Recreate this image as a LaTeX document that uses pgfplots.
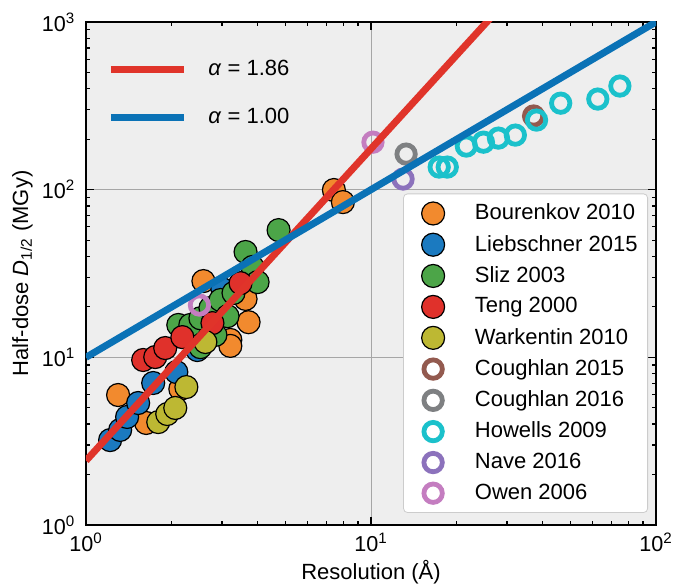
\documentclass[border=0pt]{standalone}
\usepackage{pgfplots}
\pgfplotsset{compat=1.18}
\usepackage{fontspec}
\setmainfont{Liberation Sans}
\definecolor{bgc}{HTML}{EEEEEE}
\definecolor{cOr}{HTML}{F28A2E}
\definecolor{cBl}{HTML}{1B7AC0}
\definecolor{cGr}{HTML}{4CA548}
\definecolor{cRd}{HTML}{E0312B}
\definecolor{cYe}{HTML}{BDB833}
\definecolor{cBr}{HTML}{935A4F}
\definecolor{cGy}{HTML}{7E8082}
\definecolor{cCy}{HTML}{1BC1CB}
\definecolor{cPu}{HTML}{8C72BC}
\definecolor{cPi}{HTML}{C47DC0}
\definecolor{lRd}{HTML}{E0342A}
\definecolor{lBl}{HTML}{0A72B6}
\newcommand{\ff}{\fontsize{11}{13.2}\selectfont}
\newcommand{\ft}{\fontsize{10.8}{13}\selectfont}
\tikzset{
  filled/.style={mark=*, mark size=5.75pt, mark options={fill=#1, draw=black, line width=0.6pt}},
  ring/.style={mark=o, mark size=4.6pt, mark options={draw=#1, line width=2.4pt}},
}
\begin{document}
\ff
\begin{tikzpicture}
\begin{axis}[xmode=log, ymode=log, xmin=1, xmax=100, ymin=1, ymax=1000,
  scale only axis, width=285pt, height=251.5pt, at={(0pt,0pt)}, anchor=south west,
  axis background/.style={fill=bgc},
  grid=major, major grid style={draw=black!35, line width=0.5pt},
  tick align=inside,
  xtick={1,10,100}, ytick={1,10,100,1000},
  xticklabels={10\textsuperscript{0},10\textsuperscript{1},10\textsuperscript{2}},
  yticklabels={10\textsuperscript{0},10\textsuperscript{1},10\textsuperscript{2},10\textsuperscript{3}},
  tick label style={font=\ft},
  yticklabel style={xshift=-1.5pt},
  label style={font=\ff},
  ylabel shift=-3pt,
  xlabel shift=-3pt,
  major tick length=4pt, minor tick length=2.2pt,
  every tick/.style={black, line width=0.6pt},
  axis line style={line width=1pt},
  xlabel={Resolution (Å)},
  ylabel={Half-dose \textit{D}\textsubscript{1/2} (MGy)},
  legend cell align=left,
  legend style={font=\ff, at={(rel axis cs:0.986,0.024)}, anchor=south east,
    draw=black!20, fill=white, rounded corners=2pt, row sep=2pt,
    inner xsep=3pt, inner ysep=3pt},
  legend image code/.code={\path (0pt,0pt) (30.3pt,0pt); \draw[#1] plot coordinates {(11.6pt,0pt)};},
]
\addplot[only marks, filled=cOr] coordinates {(1.296,5.96)(1.626,4.06)(2.143,6.47)(2.582,28.5)(3.63,22.3)(3.72,16.2)(3.21,12.7)(3.21,11.7)(7.41,99.5)(7.97,84.3)};
\addlegendentry{Bourenkov 2010}
\addplot[only marks, filled=cBl] coordinates {(1.215,3.21)(1.318,3.69)(1.394,4.41)(1.524,5.34)(1.721,7.03)(2.075,8.17)(2.459,11.05)(3.01,25.5)};
\addlegendentry{Liebschner 2015}
\addplot[only marks, filled=cGr] coordinates {(2.108,15.6)(2.323,15.6)(2.52,17.1)(2.733,19.7)(2.964,21.97)(3.137,17.6)(2.845,13.6)(3.293,24.2)(3.63,42.5)(3.84,34.6)(4.0,28.1)(4.74,57.4)(2.52,11.5)};
\addlegendentry{Sliz 2003}
\addplot[only marks, filled=cRd] coordinates {(1.587,9.64)(1.75,10.04)(1.897,11.36)(2.178,13.2)(2.778,16.0)(3.486,27.7)};
\addlegendentry{Teng 2000}
\addplot[only marks, filled=cYe] coordinates {(1.793,4.11)(1.928,4.59)(2.057,4.99)(2.25,6.65)(2.624,12.34)};
\addlegendentry{Warkentin 2010}
\addplot[only marks, ring=cBr] coordinates {(37.2,275)};
\addlegendentry{Coughlan 2015}
\addplot[only marks, ring=cGy] coordinates {(13.28,163)};
\addlegendentry{Coughlan 2016}
\addplot[only marks, ring=cCy] coordinates {(17.35,136.4)(18.52,136.4)(21.6,182)(24.8,192)(28.0,203)(32.1,211.6)(38.1,260)(46.3,328)(62.5,347)(74.7,415)};
\addlegendentry{Howells 2009}
\addplot[only marks, ring=cPu] coordinates {(12.96,115.7)};
\addlegendentry{Nave 2016}
\addplot[only marks, ring=cPi] coordinates {(10.16,192)(2.50,20.5)};
\addlegendentry{Owen 2006}
\end{axis}
\begin{axis}[xmode=log, ymode=log, xmin=1, xmax=100, ymin=1, ymax=1000,
  scale only axis, width=285pt, height=251.5pt, at={(0pt,0pt)}, anchor=south west,
  hide axis,
  legend cell align=left,
  legend style={font=\ff, at={(rel axis cs:0.037,0.933)}, anchor=north west,
    draw=none, fill=none, row sep=10.5pt, inner sep=0pt},
  legend image code/.code={\draw[#1] (0pt,0pt) -- (36.5pt,0pt); \path (0pt,0pt) (45pt,0pt);},
]
\addplot[lRd, line width=3.5pt] coordinates {(1,2.42) (30,1353)};
\addlegendentry{\textit{α} = 1.86}
\addplot[lBl, line width=3.5pt] coordinates {(1,10) (100,1000)};
\addlegendentry{\textit{α} = 1.00}
\end{axis}
\pgfresetboundingbox
\useasboundingbox (-43pt,-30pt) rectangle (297pt,262.5pt);
\end{tikzpicture}
\end{document}
